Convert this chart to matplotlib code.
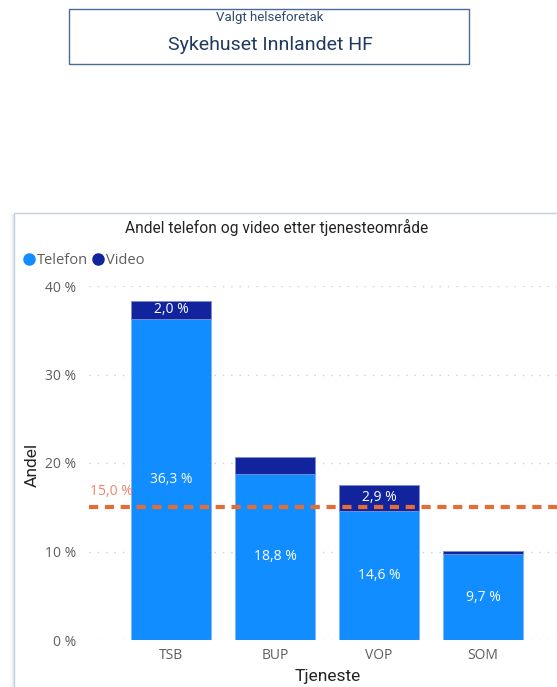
import numpy as np
import matplotlib.pyplot as plt
from matplotlib.patches import Rectangle
from matplotlib.lines import Line2D

# Data
categories = ["TSB", "BUP", "VOP", "SOM"]
telefon = [36.3, 18.8, 14.6, 9.7]
video = [2.0, 1.9, 2.9, 0.4]
show_video_label = [True, False, True, False]
target = 15.0
y_ticks = [0, 10, 20, 30, 40]

W, H = 557, 687
fig = plt.figure(figsize=(W / 100, H / 100), dpi=100)
fig.patch.set_facecolor("white")

c_tel = "#118DFF"
c_vid = "#12239E"
c_ref = "#E66C37"


def fx(px):
    return px / W


def fy(py):
    return 1 - py / H


# header card
fig.patches.append(Rectangle((fx(69), fy(64)), fx(469) - fx(69), fy(9) - fy(64),
                             transform=fig.transFigure, fill=False,
                             edgecolor="#4A6A99", linewidth=1.0))
fig.text(fx(270), fy(17), "Valgt helseforetak", ha="center", va="center",
         fontsize=9.5, color="#2E4A6B", family="Roboto")
fig.text(fx(270), fy(45), "Sykehuset Innlandet HF", ha="center", va="center",
         fontsize=14, color="#1F3A60", family="Roboto")

# chart panel with a faint shadow on the left (runs off the right/bottom edge)
for k, a in enumerate([0.10, 0.06, 0.035, 0.02]):
    fig.lines.append(Line2D([fx(13 - k), fx(13 - k)], [fy(214), 0],
                            transform=fig.transFigure, color="#5A6B80",
                            alpha=a, linewidth=1.0))
fig.patches.append(Rectangle((fx(14), fy(700)), fx(600) - fx(14), fy(213) - fy(700),
                             transform=fig.transFigure, fill=False,
                             edgecolor="#C5CEDB", linewidth=1.0))

fig.text(fx(277), fy(227), "Andel telefon og video etter tjenesteområde",
         ha="center", va="center", fontsize=11.2, color="#252423", family="Roboto")

# legend
fig.lines.append(Line2D([fx(29)], [fy(259)], transform=fig.transFigure, marker="o",
                        markersize=8, color=c_tel, linestyle="none"))
fig.text(fx(37), fy(261), "Telefon", ha="left", va="center", fontsize=10.5,
         color="#605E5C", family="Open Sans")
fig.lines.append(Line2D([fx(98)], [fy(259)], transform=fig.transFigure, marker="o",
                        markersize=8, color=c_vid, linestyle="none"))
fig.text(fx(106), fy(261), "Video", ha="left", va="center", fontsize=10.5,
         color="#605E5C", family="Open Sans")

ax = fig.add_axes([fx(89), fy(640), 1 - fx(89), fy(286) - fy(640)])
x = np.arange(len(categories))
ax.bar(x, telefon, width=0.77, color=c_tel, edgecolor="#7FB8F5", linewidth=0.6, zorder=2)
ax.bar(x, video, width=0.77, bottom=telefon, color=c_vid, edgecolor="#7F8FD0",
       linewidth=0.6, zorder=2)

for i in range(len(categories)):
    ax.text(x[i], telefon[i] / 2, f"{telefon[i]:.1f} %".replace(".", ","),
            ha="center", va="center", color="white", fontsize=10,
            family="Open Sans", zorder=4)
    if show_video_label[i]:
        ax.text(x[i], telefon[i] + video[i] / 2, f"{video[i]:.1f} %".replace(".", ","),
                ha="center", va="center", color="white", fontsize=10,
                family="Open Sans", zorder=4)

ax.axhline(target, color=c_ref, linestyle=(0, (2.2, 1.6)), linewidth=3, zorder=3)
ax.text(-0.785, target + 0.9, f"{target:.1f} %".replace(".", ","), ha="left",
        va="bottom", color="#F0826A", fontsize=10, family="Open Sans")

ax.set_xlim(-0.79, 3.71)
ax.set_ylim(0, 40)
ax.set_yticks(y_ticks)
ax.set_yticklabels([f"{t} %" for t in y_ticks])
ax.set_xticks(x)
ax.set_xticklabels(categories)
ax.grid(axis="y", color="#CFCFCF", linestyle=(0, (1, 5)), linewidth=1.0, zorder=0)
for s in ax.spines.values():
    s.set_visible(False)
ax.tick_params(length=0, labelsize=10, labelcolor="#605E5C", pad=6)
for lab in ax.get_xticklabels() + ax.get_yticklabels():
    lab.set_family("Open Sans")
ax.tick_params(axis="y", pad=9)

fig.text(fx(328), fy(677), "Tjeneste", ha="center", va="center",
         fontsize=12.5, color="#252423", family="Roboto")
fig.text(fx(32), fy(465), "Andel", ha="center", va="center", rotation=90,
         fontsize=12.5, color="#252423", family="Roboto")

fig.savefig("out.png", dpi=100, facecolor="white")
